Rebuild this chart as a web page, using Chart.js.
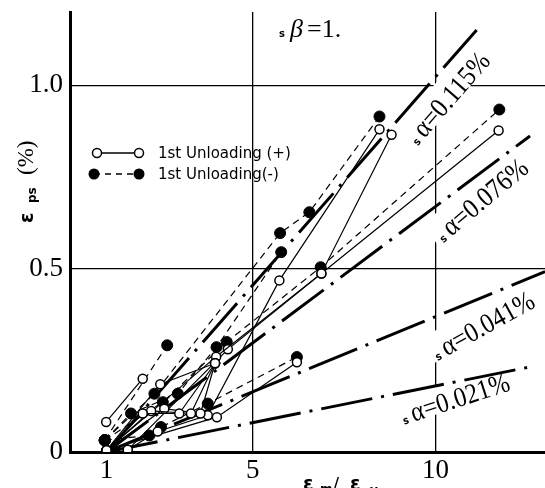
<!DOCTYPE html>
<html><head><meta charset="utf-8">
<script src="https://cdn.jsdelivr.net/npm/chart.js@4/dist/chart.umd.min.js"></script>
<style>html,body{margin:0;padding:0;background:#fff;}#wrap{width:545px;height:488px;position:relative;}</style>
</head><body><div id="wrap"><canvas id="c" width="545" height="488"></canvas></div>
<script>
// ---- axis ticks ----
const xTickValues = [1, 5, 10];
const yTickValues = [0, 0.5, 1.0];
const yTickLabels = ['0', '0.5', '1.0'];

// ---- reference lines  sα = ... % ----
const alphaValues = ['0.115', '0.076', '0.041', '0.021'];
const alphaLineStart = [[1.0, 0.0], [1.0, 0.0], [1.0, 0.0], [1.0, 0.0]];
const alphaLineEnd = [[11.13, 1.151], [12.59, 0.862], [13.0, 0.492], [12.59, 0.232]];

// ---- 1st Unloading (+) : open circles, solid lines ----
const plusPaths = [
  [[0.99, 0.082], [1.99, 0.200]],
  [[1.00, 0.005], [2.47, 0.185], [3.97, 0.242]],
  [[1.00, 0.005], [1.99, 0.105], [2.99, 0.105], [3.97, 0.242]],
  [[1.00, 0.005], [2.22, 0.112], [3.31, 0.105], [3.97, 0.242]],
  [[1.00, 0.005], [2.58, 0.118], [3.57, 0.105], [3.97, 0.242]],
  [[1.58, 0.006], [2.40, 0.056], [3.77, 0.100], [5.73, 0.468], [8.47, 0.880]],
  [[1.00, 0.005], [4.02, 0.095], [6.21, 0.245]],
  [[1.00, 0.005], [4.00, 0.260], [6.88, 0.487], [8.80, 0.865]],
  [[1.58, 0.006], [4.32, 0.280], [6.88, 0.487], [11.73, 0.877]]
];

// ---- 1st Unloading (-) : filled circles, dashed lines ----
const minusPaths = [
  [[0.95, 0.032], [2.66, 0.291]],
  [[0.95, 0.032], [2.31, 0.159], [5.75, 0.597], [6.55, 0.654], [8.47, 0.915]],
  [[0.95, 0.032], [1.67, 0.105], [2.95, 0.159], [4.01, 0.286], [5.78, 0.545]],
  [[0.95, 0.032], [2.17, 0.045], [2.49, 0.068], [3.77, 0.132], [6.21, 0.259]],
  [[0.95, 0.032], [2.54, 0.136], [4.29, 0.300], [6.86, 0.504], [11.75, 0.934]]
];

const toPts = p => p.map(([x, y]) => ({x, y}));
const datasets = [];
plusPaths.forEach(p => datasets.push({
  data: toPts(p), showLine: true, borderColor: '#000', borderWidth: 1.2,
  pointRadius: 4.5, pointBackgroundColor: '#fff', pointBorderColor: '#000', pointBorderWidth: 1.5, order: 1
}));
minusPaths.forEach(p => datasets.push({
  data: toPts(p), showLine: true, borderColor: '#000', borderWidth: 1.2, borderDash: [7, 5],
  pointRadius: 5.5, pointBackgroundColor: '#000', pointBorderColor: '#000', pointBorderWidth: 1, order: 2
}));
alphaValues.forEach((a, i) => datasets.push({
  data: toPts([alphaLineStart[i], alphaLineEnd[i]]), showLine: true, borderColor: '#000', borderWidth: 3,
  borderDash: [52, 9, 3, 9], pointRadius: 0, order: 5
}));

// label placement (style, not data)
const alphaLabelPos = [[10.34, 0.965, 49], [11.25, 0.687, 40], [11.30, 0.344, 29], [10.54, 0.145, 18]];

function drawAlpha(ctx, cx, cy, angleDeg, val) {
  ctx.save();
  ctx.translate(cx, cy);
  ctx.rotate(-angleDeg * Math.PI / 180);
  ctx.scale(0.88, 1);
  const fS = 'bold 11px "DejaVu Sans"';
  const fA = '28px "Liberation Serif"';
  const fN = '28px "Liberation Serif"';
  ctx.font = fS; const wS = ctx.measureText('s').width;
  ctx.font = fA; const wA = ctx.measureText('α').width;
  const txt = '=' + val + '%';
  ctx.font = fN; const wN = ctx.measureText(txt).width;
  const gap = 5;
  const total = wS + gap + wA + wN;
  let x = -total / 2;
  ctx.fillStyle = '#fff';
  ctx.fillRect(x - 6, -19, total + 12, 28);
  ctx.fillStyle = '#000';
  ctx.textBaseline = 'alphabetic';
  const base = 9;
  ctx.font = fS; ctx.fillText('s', x, base); x += wS + gap;
  ctx.font = fA; ctx.fillText('α', x, base); x += wA;
  ctx.font = fN; ctx.fillText(txt, x, base);
  ctx.restore();
}

const deco = {
  id: 'deco',
  beforeDatasetsDraw(chart) {
    const ctx = chart.ctx, xs = chart.scales.x, ys = chart.scales.y;
    alphaValues.forEach((v, i) => {
      const [lx, ly, ang] = alphaLabelPos[i];
      drawAlpha(ctx, xs.getPixelForValue(lx), ys.getPixelForValue(ly), ang, v);
    });
  },
  afterDraw(chart) {
    const ctx = chart.ctx;
    ctx.save();
    ctx.fillStyle = '#000';
    ctx.strokeStyle = '#000';
    ctx.textBaseline = 'alphabetic';
    // sβ=1.
    ctx.font = 'bold 10px "DejaVu Sans"'; ctx.fillText('s', 279, 37);
    ctx.font = 'italic 26px "Liberation Serif"'; ctx.fillText('β', 290, 37);
    ctx.font = '26px "Liberation Serif"'; ctx.fillText('=1.', 307, 37);

    // y title (rotated)
    ctx.save();
    ctx.translate(33, 223);
    ctx.rotate(-Math.PI / 2);
    ctx.font = 'bold 19px "DejaVu Sans"'; ctx.fillText('ε', 0, 0);
    ctx.font = 'bold 12px "DejaVu Sans"'; ctx.fillText('ps', 20, 3);
    ctx.font = '23px "Liberation Serif"'; ctx.fillText('(%)', 48, 0);
    ctx.restore();

    // x title
    ctx.font = 'bold 19px "DejaVu Sans"'; ctx.fillText('ε', 303, 490);
    ctx.font = 'bold 12px "DejaVu Sans"'; ctx.fillText('m', 320, 493);
    ctx.font = '18px "DejaVu Sans"'; ctx.fillText('/', 333, 490);
    ctx.font = 'bold 19px "DejaVu Sans"'; ctx.fillText('ε', 350, 490);
    ctx.font = 'bold 12px "DejaVu Sans"'; ctx.fillText('y', 370, 494);

    // legend
    ctx.lineWidth = 1.5;
    ctx.setLineDash([]);
    ctx.beginPath(); ctx.moveTo(97, 153); ctx.lineTo(139, 153); ctx.stroke();
    [97, 139].forEach(cx => {
      ctx.beginPath(); ctx.arc(cx, 153, 4.5, 0, Math.PI * 2);
      ctx.fillStyle = '#fff'; ctx.fill(); ctx.stroke();
    });
    ctx.setLineDash([6, 5]);
    ctx.beginPath(); ctx.moveTo(94, 174); ctx.lineTo(139, 174); ctx.stroke();
    ctx.setLineDash([]);
    ctx.fillStyle = '#000';
    [94, 139].forEach(cx => {
      ctx.beginPath(); ctx.arc(cx, 174, 5.5, 0, Math.PI * 2); ctx.fill();
    });
    ctx.font = '15px "DejaVu Sans"';
    ctx.fillText('1st Unloading (+)', 158, 158);
    ctx.fillText('1st Unloading(-)', 158, 179);
    ctx.restore();
  }
};

function zeroPad(s) { s.paddingLeft = 0; s.paddingRight = 0; s.paddingTop = 0; s.paddingBottom = 0; }

new Chart(document.getElementById('c'), {
  type: 'scatter',
  data: { datasets },
  options: {
    responsive: false,
    animation: false,
    layout: { autoPadding: false, padding: { top: 12, left: 0, right: 0, bottom: 0 } },
    plugins: { legend: { display: false }, tooltip: { enabled: false } },
    scales: {
      x: {
        type: 'linear', min: 0, max: 13,
        afterBuildTicks: s => { s.ticks = xTickValues.map(v => ({ value: v })); },
        afterFit: s => { s.height = 36; zeroPad(s); },
        ticks: { color: '#000', font: { family: 'Liberation Serif', size: 27 }, padding: 3, maxRotation: 0, autoSkip: false },
        grid: { color: c => (c.tick && c.tick.value === 1) ? 'rgba(0,0,0,0)' : '#000', lineWidth: 1.3, drawTicks: false },
        border: { display: true, color: '#000', width: 3 }
      },
      y: {
        type: 'linear', min: 0, max: 1.2,
        afterBuildTicks: s => { s.ticks = yTickValues.map(v => ({ value: v })); },
        afterFit: s => { s.width = 70; zeroPad(s); },
        ticks: { color: '#000', font: { family: 'Liberation Serif', size: 27 }, padding: 7,
          callback: v => yTickLabels[yTickValues.indexOf(v)] },
        grid: { color: c => (c.tick && c.tick.value === 0) ? 'rgba(0,0,0,0)' : '#000', lineWidth: 1.3, drawTicks: false },
        border: { display: true, color: '#000', width: 3 }
      }
    }
  },
  plugins: [deco]
});
</script></body></html>
